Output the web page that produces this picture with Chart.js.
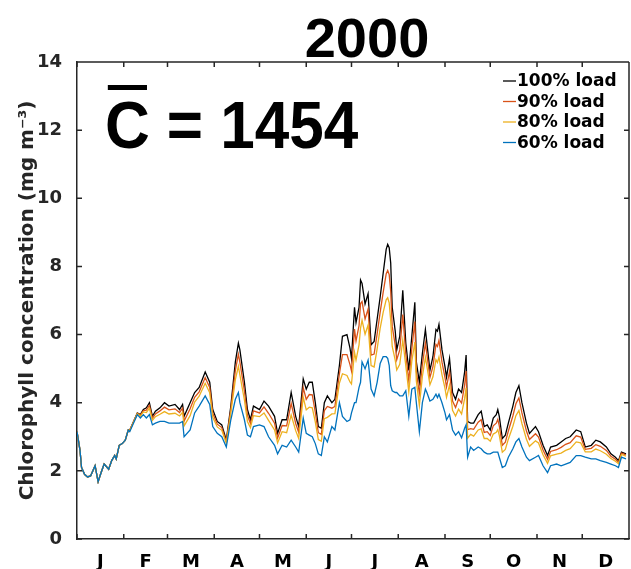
<!DOCTYPE html>
<html>
<head>
<meta charset="utf-8">
<script src="https://cdn.jsdelivr.net/npm/chart.js@4.4.0/dist/chart.umd.min.js"></script>
<style>
  html, body { margin: 0; padding: 0; background: #fff; }
</style>
</head>
<body>
<canvas id="chl" width="631" height="569"></canvas>
<script>
// day of year (2000 is a leap year, axis runs 0..366)
const days = [0,2,3,5,7,9,12,14,16,18,20,21,23,25,26,28,30,32,34,
  35,37,40,42,44,46,48,50,52,55,58,61,65,68,70,71,75,78,81,85,88,90,93,96,99,
  102,105,107,108,111,113,115,117,121,124,127,131,133,136,139,142,145,147,
  150,152,154,156,158,160,162,164,166,169,171,174,176,179,181,182,184,185,187,
  188,189,191,193,195,197,199,201,203,205,206,207,208,209,211,212,214,216,218,
  220,222,224,225,227,229,231,232,234,236,238,239,240,242,244,245,247,249,251,
  253,255,257,258,259,261,263,266,268,270,272,274,276,278,279,280,282,284,286,
  289,291,293,295,298,300,304,306,309,312,314,318,321,324,327,331,334,337,341,
  344,347,351,354,357,359,361,364];

const load100 = [3.15,2.6,2.1,1.9,1.82,1.85,2.15,1.68,1.95,2.2,2.1,2.05,2.3,2.45,2.35,2.75,2.8,2.9,3.2,
  3.2,3.4,3.7,3.65,3.8,3.85,4.0,3.6,3.75,3.85,4.0,3.9,3.95,3.8,3.95,3.6,4.0,4.3,4.45,4.9,4.6,3.8,3.45,3.35,2.9,
  3.9,5.2,5.75,5.55,4.6,3.8,3.5,3.9,3.8,4.05,3.9,3.6,3.1,3.5,3.5,4.3,3.6,3.3,
  4.7,4.4,4.6,4.6,4.0,3.3,3.25,4.0,4.2,4.0,4.1,5.1,5.95,6.0,5.6,5.3,6.8,6.35,6.8,
  7.6,7.5,6.9,7.2,5.7,5.8,6.45,7.1,7.8,8.5,8.65,8.55,8.1,6.8,6.1,5.55,5.95,7.3,5.75,
  4.95,5.95,6.95,5.2,4.6,5.45,6.15,5.75,4.95,5.35,6.15,6.1,6.3,5.55,5.05,4.75,5.3,4.3,4.1,
  4.4,4.3,4.9,5.4,3.45,3.4,3.4,3.65,3.75,3.3,3.35,3.2,3.55,3.65,3.8,3.6,2.95,3.05,3.4,
  3.9,4.3,4.5,4.0,3.4,3.1,3.3,3.15,2.75,2.45,2.7,2.75,2.85,2.95,3.0,3.2,3.15,2.7,2.75,
  2.9,2.85,2.7,2.5,2.4,2.3,2.55,2.5];

const load90 = [3.15,2.6,2.1,1.9,1.82,1.85,2.15,1.68,1.95,2.2,2.1,2.05,2.3,2.45,2.35,2.75,2.8,2.9,3.2,
  3.19,3.39,3.69,3.63,3.77,3.78,3.92,3.54,3.67,3.76,3.87,3.79,3.82,3.71,3.84,3.46,3.82,4.16,4.32,4.74,4.45,3.69,3.37,3.27,2.85,
  3.81,4.95,5.42,5.19,4.35,3.63,3.39,3.76,3.7,3.88,3.69,3.4,2.96,3.33,3.32,3.98,3.39,3.13,
  4.44,4.1,4.24,4.23,3.72,3.12,3.07,3.77,3.89,3.84,3.89,4.85,5.41,5.41,5.12,4.93,6.16,5.81,6.26,
  6.91,6.97,6.46,6.75,5.4,5.43,6.02,6.65,7.24,7.78,7.88,7.76,7.27,6.24,5.69,5.26,5.55,6.59,5.43,
  4.64,5.59,6.38,4.92,4.27,5.12,5.75,5.42,4.74,5.06,5.71,5.65,5.83,5.19,4.74,4.46,4.92,4.05,3.86,
  4.11,3.99,4.52,4.93,3.21,3.24,3.22,3.43,3.5,3.13,3.15,3.04,3.32,3.4,3.51,3.32,2.75,2.84,3.17,
  3.61,3.97,4.14,3.7,3.17,2.92,3.09,2.99,2.61,2.34,2.57,2.62,2.69,2.78,2.83,3.03,2.99,2.63,2.66,
  2.77,2.72,2.6,2.43,2.34,2.25,2.52,2.47];

const load80 = [3.15,2.6,2.1,1.9,1.82,1.85,2.15,1.68,1.95,2.2,2.1,2.05,2.3,2.45,2.35,2.75,2.8,2.9,3.2,
  3.18,3.38,3.68,3.6,3.73,3.71,3.84,3.48,3.59,3.66,3.74,3.67,3.69,3.61,3.72,3.32,3.62,4.02,4.19,4.57,4.29,3.57,3.29,3.19,2.81,
  3.71,4.68,5.07,4.82,4.08,3.45,3.27,3.62,3.59,3.7,3.48,3.2,2.82,3.15,3.12,3.64,3.18,2.95,
  4.16,3.79,3.87,3.85,3.44,2.92,2.87,3.53,3.57,3.67,3.68,4.58,4.85,4.8,4.61,4.55,5.48,5.25,5.7,
  6.19,6.42,6.01,6.28,5.09,5.05,5.58,6.18,6.65,7.02,7.08,6.93,6.41,5.65,5.25,4.96,5.13,5.84,5.09,
  4.32,5.22,5.78,4.64,3.92,4.77,5.33,5.07,4.53,4.76,5.26,5.18,5.34,4.82,4.42,4.16,4.52,3.78,3.61,
  3.81,3.67,4.12,4.44,2.96,3.07,3.02,3.2,3.23,2.95,2.95,2.87,3.08,3.13,3.21,3.04,2.55,2.63,2.93,
  3.31,3.62,3.77,3.39,2.93,2.72,2.88,2.82,2.47,2.22,2.44,2.49,2.52,2.6,2.65,2.85,2.82,2.56,2.56,
  2.64,2.59,2.49,2.36,2.28,2.21,2.48,2.43];

const load60 = [3.15,2.6,2.1,1.9,1.82,1.85,2.15,1.68,1.95,2.2,2.1,2.05,2.3,2.45,2.35,2.75,2.8,2.9,3.2,
  3.15,3.35,3.65,3.55,3.65,3.55,3.65,3.35,3.4,3.45,3.45,3.4,3.4,3.4,3.45,3.0,3.2,3.7,3.9,4.2,3.95,3.3,3.1,3.0,2.7,
  3.5,4.1,4.3,4.0,3.5,3.05,3.0,3.3,3.35,3.3,3.0,2.75,2.5,2.75,2.7,2.9,2.7,2.55,
  3.55,3.1,3.05,3.0,2.8,2.5,2.45,3.0,2.85,3.3,3.2,4.0,3.6,3.45,3.5,3.7,4.0,4.0,4.45,
  4.6,5.2,5.0,5.25,4.4,4.2,4.6,5.15,5.35,5.35,5.3,5.1,4.5,4.35,4.3,4.3,4.2,4.2,4.35,
  3.6,4.4,4.45,4.0,3.15,4.0,4.4,4.3,4.05,4.1,4.25,4.15,4.25,4.0,3.7,3.5,3.65,3.2,3.05,
  3.15,2.97,3.25,3.35,2.4,2.7,2.6,2.7,2.65,2.55,2.5,2.5,2.55,2.55,2.55,2.4,2.1,2.15,2.4,
  2.65,2.85,2.95,2.7,2.4,2.3,2.4,2.45,2.15,1.95,2.15,2.2,2.15,2.2,2.25,2.45,2.45,2.4,2.35,
  2.35,2.3,2.25,2.2,2.15,2.1,2.4,2.35];

const seriesNames = ['100% load', '90% load', '80% load', '60% load'];
const seriesColors = ['#000000', '#D95319', '#EDB120', '#0072BD'];
const monthStarts = [0, 31, 60, 91, 121, 152, 182, 213, 244, 274, 305, 335, 366];
const monthLabels = ['J', 'F', 'M', 'A', 'M', 'J', 'J', 'A', 'S', 'O', 'N', 'D'];
const yTicks = [0, 2, 4, 6, 8, 10, 12, 14];
const yearTitle = '2000';
const meanSymbol = 'C';
const meanValue = '= 1454';

const axisColor = '#262626';
const tickFont = { family: 'DejaVu Sans', size: 18, weight: 'bold' };

function toPoints(vals) {
    return days.map((d, i) => ({ x: d, y: vals[i] }));
}

// box around the axes with inward ticks on all four sides
const framePlugin = {
    id: 'frame',
    afterDraw(chart) {
        const ctx = chart.ctx;
        const a = chart.chartArea;
        const xs = chart.scales.x, ys = chart.scales.y;
        const len = 5;
        ctx.save();
        ctx.strokeStyle = axisColor;
        ctx.lineWidth = 1.5;
        ctx.beginPath();
        ctx.moveTo(a.left, a.top); ctx.lineTo(a.right, a.top);
        ctx.moveTo(a.right, a.top); ctx.lineTo(a.right, a.bottom);
        monthStarts.forEach(m => {
            const px = xs.getPixelForValue(m);
            ctx.moveTo(px, a.bottom); ctx.lineTo(px, a.bottom - len);
            ctx.moveTo(px, a.top); ctx.lineTo(px, a.top + len);
        });
        yTicks.forEach(t => {
            const py = ys.getPixelForValue(t);
            ctx.moveTo(a.left, py); ctx.lineTo(a.left + len, py);
            ctx.moveTo(a.right, py); ctx.lineTo(a.right - len, py);
        });
        ctx.stroke();
        ctx.restore();
    }
};

// title, mean annotation (C with overbar) and the legend
const textPlugin = {
    id: 'texts',
    afterDraw(chart) {
        const ctx = chart.ctx;
        ctx.save();
        ctx.fillStyle = '#000';
        ctx.textBaseline = 'alphabetic';
        ctx.textAlign = 'center';
        ctx.font = 'bold 56px "Liberation Sans"';
        ctx.fillText(yearTitle, 367, 57);

        ctx.textAlign = 'left';
        ctx.font = 'bold 66px "Liberation Sans"';
        ctx.save();
        ctx.translate(105, 148);
        ctx.scale(0.94, 1);
        ctx.fillText(meanSymbol, 0, 0);
        const cw = ctx.measureText(meanSymbol).width;
        ctx.fillRect(3, -63, cw - 6, 5);
        ctx.fillText(meanValue, cw + 18, 0);
        ctx.restore();

        ctx.font = 'bold 17px "DejaVu Sans"';
        ctx.textBaseline = 'middle';
        seriesNames.forEach((name, i) => {
            const y = 81 + i * 20.5;
            ctx.strokeStyle = seriesColors[i];
            ctx.lineWidth = 1.3;
            ctx.beginPath();
            ctx.moveTo(503, y); ctx.lineTo(516, y);
            ctx.stroke();
            ctx.fillStyle = '#000';
            ctx.fillText(name, 517, y + 1);
        });
        ctx.restore();
    }
};

new Chart(document.getElementById('chl'), {
    type: 'line',
    data: {
        datasets: [load100, load90, load80, load60].map((vals, i) => ({
            label: seriesNames[i],
            data: toPoints(vals),
            borderColor: seriesColors[i],
            borderWidth: 1.3,
            pointRadius: 0,
            tension: 0,
            order: 4 - i
        }))
    },
    options: {
        responsive: false,
        animation: false,
        devicePixelRatio: 1,
        layout: { padding: { top: 62, right: 2, left: 0, bottom: 0 } },
        plugins: {
            legend: { display: false },
            tooltip: { enabled: false }
        },
        scales: {
            x: {
                type: 'linear',
                min: 0,
                max: 366,
                grid: { display: false },
                border: { display: true, color: axisColor, width: 1.5 },
                afterBuildTicks(scale) {
                    scale.ticks = monthLabels.map((m, i) => ({ value: (monthStarts[i] + monthStarts[i + 1]) / 2 }));
                },
                ticks: {
                    autoSkip: false,
                    maxRotation: 0,
                    color: '#000',
                    font: tickFont,
                    padding: 5,
                    callback: (v, i) => monthLabels[i]
                },
                afterFit(scale) { scale.height = 30; }
            },
            y: {
                min: 0,
                max: 14,
                grid: { display: false },
                border: { display: true, color: axisColor, width: 1.5 },
                ticks: {
                    stepSize: 2,
                    color: axisColor,
                    font: tickFont,
                    padding: 7
                },
                title: {
                    display: true,
                    text: 'Chlorophyll concentration (mg m\u207B\u00B3)',
                    color: axisColor,
                    font: { family: 'DejaVu Sans', size: 20, weight: 'bold' },
                    padding: { top: 16, bottom: 0 }
                },
                afterFit(scale) { scale.width = 77; }
            }
        }
    },
    plugins: [framePlugin, textPlugin]
});
</script>
</body>
</html>
